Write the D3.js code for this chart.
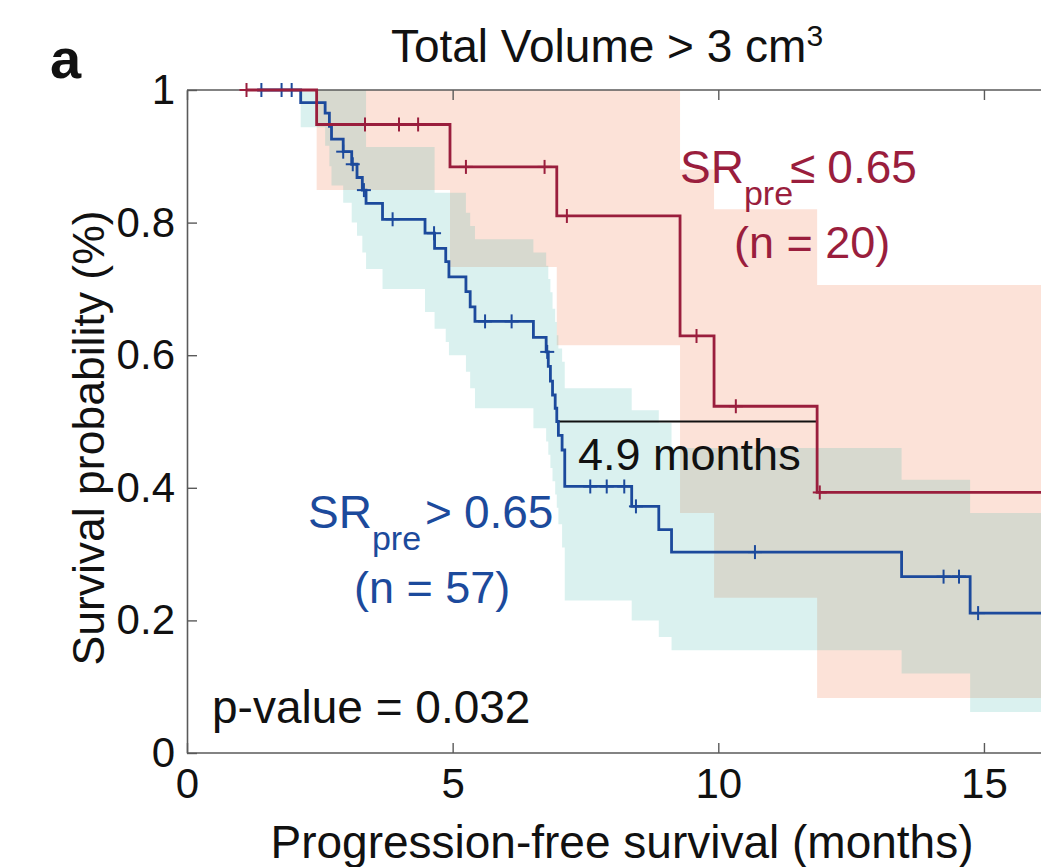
<!DOCTYPE html>
<html>
<head>
<meta charset="utf-8">
<script src="https://cdn.jsdelivr.net/npm/d3@7"></script>
<style>
  body { margin: 0; background: #fff; }
  svg { display: block; }
  text { font-family: "Liberation Sans", Arial, Helvetica, sans-serif; }
</style>
</head>
<body>
<svg id="chart" width="1041" height="867"></svg>
<script>
// Kaplan-Meier curves, progression-free survival (months)
// Steps: [time, survival after the drop]
const lowSRStart = 1.12;
const lowSRSteps = [
  [2.44, 0.948], [4.95, 0.884], [6.96, 0.810], [9.28, 0.629],
  [9.92, 0.523], [11.86, 0.393]
];
const lowSRCensored = [1.12, 3.35, 3.99, 4.35, 5.25, 6.73, 7.15, 9.59, 10.33, 11.91];
// Confidence band: [time, lower, upper]
const lowSRBand = [
  [2.44, 0.849, 1.0], [4.95, 0.733, 1.0], [6.96, 0.615, 1.0],
  [9.28, 0.362, 0.88], [9.92, 0.234, 0.82], [11.86, 0.083, 0.706]
];

const highSRStart = 1.32;
const highSRSteps = [
  [2.14, 0.981], [2.60, 0.965], [2.68, 0.945], [2.72, 0.926], [2.94, 0.907],
  [3.10, 0.888], [3.20, 0.868], [3.30, 0.849], [3.37, 0.829], [3.68, 0.805],
  [4.48, 0.784], [4.66, 0.761], [4.87, 0.741], [4.93, 0.718], [5.25, 0.696],
  [5.33, 0.673], [5.42, 0.651], [6.52, 0.627], [6.76, 0.605], [6.80, 0.583],
  [6.84, 0.561], [6.88, 0.540], [6.93, 0.520], [6.96, 0.500], [6.99, 0.479],
  [7.06, 0.457], [7.11, 0.402], [8.37, 0.372], [8.88, 0.337], [9.12, 0.303],
  [13.45, 0.266], [14.74, 0.211]
];
const highSRCensored = [1.40, 1.78, 1.97, 2.94, 3.12, 3.33, 3.87, 4.65, 5.61, 6.11,
  6.78, 7.59, 7.90, 8.23, 8.45, 10.69, 14.24, 14.53, 14.89];
const highSRBand = [
  [2.14, 0.944, 1.0], [2.60, 0.916, 1.0], [2.68, 0.885, 1.0], [2.72, 0.856, 1.0],
  [2.94, 0.830, 1.0], [3.10, 0.800, 1.0], [3.20, 0.780, 1.0], [3.30, 0.755, 1.0],
  [3.37, 0.730, 0.914], [3.68, 0.700, 0.914], [4.48, 0.665, 0.914], [4.66, 0.640, 0.845],
  [4.87, 0.620, 0.845], [4.93, 0.600, 0.845], [5.25, 0.575, 0.815], [5.33, 0.550, 0.795],
  [5.42, 0.520, 0.775], [6.52, 0.490, 0.755], [6.76, 0.470, 0.735], [6.80, 0.450, 0.715],
  [6.84, 0.430, 0.695], [6.88, 0.410, 0.670], [6.93, 0.390, 0.650], [6.96, 0.370, 0.630],
  [6.99, 0.345, 0.610], [7.06, 0.310, 0.590], [7.11, 0.230, 0.550], [8.37, 0.200, 0.517],
  [8.88, 0.175, 0.498], [9.12, 0.155, 0.460], [13.45, 0.120, 0.412], [14.74, 0.062, 0.362]
];

const followUpEnd = 18;
const medianGap = { from: 6.96, to: 11.86, level: 0.5, label: "4.9 months" };

const xTickValues = [0, 5, 10, 15];
const xTickLabels = ["0", "5", "10", "15"];
const yTickValues = [0, 0.2, 0.4, 0.6, 0.8, 1];
const yTickLabels = ["0", "0.2", "0.4", "0.6", "0.8", "1"];

const redLine = "#9a1e3d";
const blueLine = "#1c4a9c";
const redFill = "rgb(242,112,60)";
const blueFill = "rgb(70,185,175)";

const svg = d3.select("#chart");
const x = d3.scaleLinear().domain([0, 18]).range([187, 187 + 18 * 53.13]);
const y = d3.scaleLinear().domain([0, 1]).range([753, 90]);

// confidence bands
const area = d3.area()
  .curve(d3.curveStepAfter)
  .x(d => x(d[0])).y0(d => y(d[1])).y1(d => y(d[2]));
function bandPoints(band) {
  const last = band[band.length - 1];
  return band.concat([[followUpEnd, last[1], last[2]]]);
}
svg.append("path").datum(bandPoints(lowSRBand))
  .attr("d", area).attr("fill", redFill).attr("fill-opacity", 0.2);
svg.append("path").datum(bandPoints(highSRBand))
  .attr("d", area).attr("fill", blueFill).attr("fill-opacity", 0.2);

// axes
const axisColor = "#5a5a5a";
const fontSize = 42;
const axisL = svg.append("g").attr("transform", `translate(${x(0)},0)`)
  .call(d3.axisLeft(y).tickValues(yTickValues).tickFormat((d, i) => yTickLabels[i])
    .tickSizeInner(-10).tickSizeOuter(0).tickPadding(12));
const axisB = svg.append("g").attr("transform", `translate(0,${y(0)})`)
  .call(d3.axisBottom(x).tickValues(xTickValues).tickFormat((d, i) => xTickLabels[i])
    .tickSizeInner(-10).tickSizeOuter(0).tickPadding(15));
const axisT = svg.append("g").attr("transform", `translate(0,${y(1)})`)
  .call(d3.axisTop(x).tickValues(xTickValues).tickFormat("")
    .tickSizeInner(-10).tickSizeOuter(0));
[axisL, axisB, axisT].forEach(g => {
  g.select(".domain").attr("stroke", axisColor).attr("stroke-width", 1.6);
  g.selectAll(".tick line").attr("stroke", axisColor).attr("stroke-width", 1.4);
  g.selectAll(".tick text").attr("fill", "#111").attr("font-size", fontSize)
    .attr("font-family", "Liberation Sans, Arial, sans-serif");
});
// horizontal frame lines span the full width
axisT.select(".domain").attr("d", `M${x(0)},0H${x(18)}`);
axisB.select(".domain").attr("d", `M${x(0)},0H${x(18)}`);

// median gap line
svg.append("line")
  .attr("x1", x(medianGap.from)).attr("x2", x(medianGap.to))
  .attr("y1", y(medianGap.level)).attr("y2", y(medianGap.level))
  .attr("stroke", "#111").attr("stroke-width", 2);

// survival curves
const line = d3.line().curve(d3.curveStepAfter).x(d => x(d[0])).y(d => y(d[1]));
function curvePoints(start, steps) {
  const pts = [[start, 1]].concat(steps);
  return pts.concat([[followUpEnd, steps[steps.length - 1][1]]]);
}
function survivalAt(steps, t) {
  let s = 1;
  for (const [ts, v] of steps) if (ts <= t) s = v;
  return s;
}
function drawCurve(start, steps, censored, color) {
  svg.append("path").datum(curvePoints(start, steps))
    .attr("d", line).attr("fill", "none").attr("stroke", color)
    .attr("stroke-width", 2.8).attr("stroke-linejoin", "miter");
  const g = svg.append("g").attr("stroke", color).attr("stroke-width", 2);
  censored.forEach(t => {
    const cx = x(t), cy = y(survivalAt(steps, t));
    g.append("line").attr("x1", cx).attr("x2", cx).attr("y1", cy - 7).attr("y2", cy + 7);
    g.append("line").attr("x1", cx - 7).attr("x2", cx + 7).attr("y1", cy).attr("y2", cy);
  });
}
drawCurve(highSRStart, highSRSteps, highSRCensored, blueLine);
drawCurve(lowSRStart, lowSRSteps, lowSRCensored, redLine);

// texts
svg.append("text").attr("x", 607).attr("y", 62).attr("text-anchor", "middle")
  .attr("font-size", 46).attr("fill", "#111")
  .text("Total Volume > 3 cm")
  .append("tspan").attr("font-size", 30).attr("dy", -16).text("3");
svg.append("text").attr("x", 50).attr("y", 78).attr("font-size", 56)
  .attr("font-weight", "bold").attr("fill", "#111").text("a");

svg.append("text").attr("transform", "translate(104,438) rotate(-90)")
  .attr("text-anchor", "middle").attr("font-size", 44.5).attr("fill", "#111")
  .text("Survival probability (%)");
svg.append("text").attr("x", 622).attr("y", 858).attr("text-anchor", "middle")
  .attr("font-size", 46).attr("fill", "#111")
  .text("Progression-free survival (months)");

function groupLabel(xp, yp, op, value, color, nText, nx, gap) {
  const t = svg.append("text").attr("x", xp).attr("y", yp).attr("font-size", 46).attr("fill", color);
  t.append("tspan").text("SR");
  t.append("tspan").attr("font-size", 34).attr("dy", 22).text("pre");
  t.append("tspan").attr("dy", -22).attr("dx", gap).text(op);
  t.append("tspan").attr("dx", 12).text(value);
  svg.append("text").attr("x", nx).attr("y", yp + 75).attr("font-size", 45).attr("fill", color).text(nText);
}
groupLabel(680, 183, "\u2264", "0.65", redLine, "(n = 20)", 734, -3);
groupLabel(308, 528, ">", "0.65", blueLine, "(n = 57)", 354, 4);

svg.append("text").attr("x", 578).attr("y", 470).attr("font-size", 45).attr("fill", "#111")
  .text(medianGap.label);
svg.append("text").attr("x", 212).attr("y", 723).attr("font-size", 46).attr("fill", "#111")
  .text("p-value = 0.032");
</script>
</body>
</html>
